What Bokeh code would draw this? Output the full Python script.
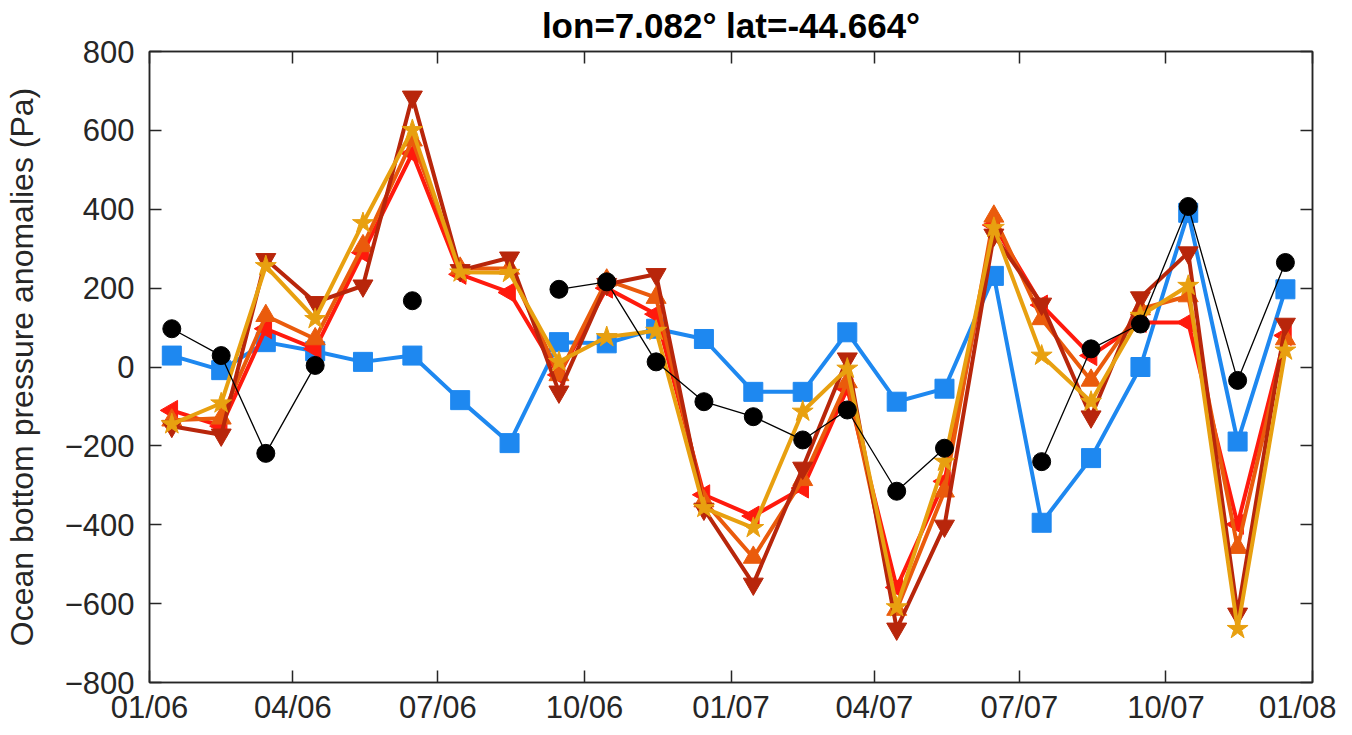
import numpy as np
import pandas as pd
from bokeh.plotting import figure
from bokeh.models import FixedTicker, DatetimeAxis, LinearAxis, ColumnDataSource
from bokeh.embed import file_html
from bokeh.resources import INLINE

nan = np.nan

# ---- data (monthly, mid-month, Jan 2006 .. Dec 2007) ----
months = [f"{y}-{m:02d}-15" for y in (2006, 2007) for m in range(1, 13)]

blue_sq = [29, -8, 63, 40, 13, 29, -84, -193, 63, 60, 97, 71,
           -63, -63, 88, -88, -55, 231, -395, -231, 0, 391, -189, 197]
black_circ = [97, 29, -219, 4, nan, 168, nan, nan, 197, 216, 13, -88,
              -126, -185, -109, -315, -206, nan, -240, 46, 109, 407, -34, 265]
red_tri_left = [-110, -150, 97, 46, 290, 542, 235, 189, -20, 200, 134, -324,
                -378, -307, -55, -559, -290, 360, 157, 29, 113, 113, -399, 80]
orange_tri_up = [-135, -130, 130, 71, 307, 575, 250, 250, -20, 220, 176, -340,
                 -483, -286, -38, -615, -315, 382, 122, -34, 147, 180, -458, 71]
darkred_tri_down = [-150, -172, 273, 164, 206, 685, 245, 277, -63, 210, 235, -360,
                    -550, -256, 21, -664, -403, 335, 160, -126, 176, 290, -626, 109]
gold_star = [-145, -92, 256, 122, 365, 601, 240, 239, 13, 76, 92, -357,
             -408, -113, -4, -609, -240, 353, 29, -88, 130, 206, -664, 42]

tick_dates = ["2006-01-01", "2006-04-01", "2006-07-01", "2006-10-01", "2007-01-01",
              "2007-04-01", "2007-07-01", "2007-10-01", "2008-01-01"]
tick_labels = ["01/06", "04/06", "07/06", "10/06", "01/07", "04/07", "07/07", "10/07", "01/08"]
y_ticks = [-800, -600, -400, -200, 0, 200, 400, 600, 800]

title_text = "lon=7.082\u00b0 lat=-44.664\u00b0"
y_label = "Ocean bottom pressure anomalies (Pa)"

# ---- build ----
x = pd.to_datetime(months)
tick_ms = [pd.Timestamp(d).value // 10**6 for d in tick_dates]
FONT = "Liberation Sans"
AX = "#262626"

p = figure(width=1336, height=727, x_axis_type="datetime",
           x_range=(pd.Timestamp("2006-01-01"), pd.Timestamp("2008-01-01")),
           y_range=(-800, 800), output_backend="svg", toolbar_location=None,
           min_border_left=141, min_border_right=24, min_border_top=51,
           min_border_bottom=41, background_fill_color="white",
           border_fill_color="white")
p.title.text = title_text
p.title.align = "center"
p.title.vertical_align = "top"
p.title.text_font = FONT
p.title.text_font_size = "35px"
p.title.text_font_style = "bold"
p.title.text_color = "#000000"
p.title.standoff = 9
p.xgrid.visible = False
p.ygrid.visible = False
p.outline_line_color = AX
p.outline_line_width = 1.5

xt = FixedTicker(ticks=tick_ms)
yt = FixedTicker(ticks=y_ticks)

def style(ax, size="31px"):
    ax.axis_line_color = AX
    ax.axis_line_width = 1.5
    ax.major_tick_line_color = AX
    ax.major_tick_line_width = 1.5
    ax.major_tick_in = 12
    ax.major_tick_out = 0
    ax.minor_tick_in = 0
    ax.minor_tick_out = 0
    ax.major_label_text_font = FONT
    ax.major_label_text_font_size = size
    ax.major_label_text_color = AX

xa = p.xaxis[0]
xa.ticker = xt
xa.major_label_overrides = {t: l for t, l in zip(tick_ms, tick_labels)}
xa.major_label_standoff = 7
style(xa)

ya = p.yaxis[0]
ya.ticker = yt
ya.major_label_standoff = 15
ya.axis_label = y_label
ya.axis_label_text_font = FONT
ya.axis_label_text_font_size = "32px"
ya.axis_label_text_font_style = "normal"
ya.axis_label_text_color = AX
ya.axis_label_standoff = 22
style(ya)

top = DatetimeAxis(ticker=xt, major_label_overrides={t: "" for t in tick_ms},
                   major_label_standoff=0)
style(top, "1px")
p.add_layout(top, "above")
right = LinearAxis(ticker=yt, major_label_overrides={t: "" for t in y_ticks},
                   major_label_standoff=0)
style(right, "1px")
p.add_layout(right, "right")

src = ColumnDataSource(dict(x=x, blue=blue_sq, black=black_circ, red=red_tri_left,
                            orange=orange_tri_up, dark=darkred_tri_down, star=gold_star))

C_BLUE = "#1E88F0"
C_RED = "#FF1A0D"
C_ORANGE = "#EA5B0C"
C_DARK = "#B8260B"
C_STAR = "#E8A010"

p.line("x", "blue", source=src, color=C_BLUE, line_width=4)
p.scatter("x", "blue", source=src, marker="square", size=19, color=C_BLUE)

p.line("x", "red", source=src, color=C_RED, line_width=4)
p.scatter("x", "red", source=src, marker="triangle", angle=np.pi / 2, size=20, color=C_RED)

p.line("x", "orange", source=src, color=C_ORANGE, line_width=4)
p.scatter("x", "orange", source=src, marker="triangle", size=20, color=C_ORANGE)

p.line("x", "dark", source=src, color=C_DARK, line_width=4)
p.scatter("x", "dark", source=src, marker="inverted_triangle", size=20, color=C_DARK)

p.line("x", "star", source=src, color=C_STAR, line_width=4)
p.scatter("x", "star", source=src, marker="star", size=22, color=C_STAR)

p.line("x", "black", source=src, color="black", line_width=1.3)
p.scatter("x", "black", source=src, marker="circle", size=18, color="black")

open("out.html", "w").write(file_html(p, INLINE))
